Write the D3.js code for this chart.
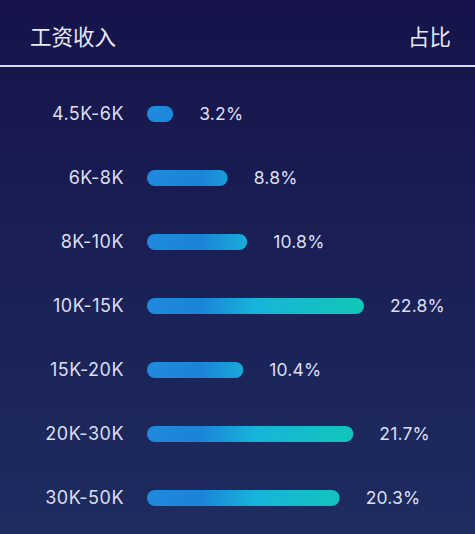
<!DOCTYPE html>
<html><head><meta charset="utf-8">
<script src="https://cdn.jsdelivr.net/npm/d3@7"></script>
<style>
html,body{margin:0;padding:0;background:#171649;}
svg{display:block;}
</style></head>
<body>
<script>
const categories = ["4.5K-6K","6K-8K","8K-10K","10K-15K","15K-20K","20K-30K","30K-50K"];
const values = [3.2, 8.8, 10.8, 22.8, 10.4, 21.7, 20.3];
const valueLabels = ["3.2%","8.8%","10.8%","22.8%","10.4%","21.7%","20.3%"];
const headers = ["工资收入","占比"];

const W = 475, H = 534;
const svg = d3.select("body").append("svg").attr("width", W).attr("height", H);
const defs = svg.append("defs");

const bg = defs.append("linearGradient").attr("id","bg").attr("x1",0).attr("y1",0).attr("x2",0).attr("y2",1);
bg.append("stop").attr("offset","0%").attr("stop-color","#16144a");
bg.append("stop").attr("offset","100%").attr("stop-color","#1e2c60");
svg.append("rect").attr("width",W).attr("height",H).attr("fill","url(#bg)");

const cjk = "'Noto Sans CJK SC', sans-serif";
const latin = "Inter, 'Noto Sans', sans-serif";

svg.append("text").attr("x",30).attr("y",37).attr("dy","0.35em")
  .attr("fill","#e8e9f6").attr("font-family",cjk).attr("font-size",21.5).text(headers[0]);
svg.append("text").attr("x",451).attr("y",37).attr("dy","0.35em").attr("text-anchor","end")
  .attr("fill","#e8e9f6").attr("font-family",cjk).attr("font-size",21.5).text(headers[1]);
svg.append("line").attr("x1",0).attr("x2",W).attr("y1",66).attr("y2",66)
  .attr("stroke","#d9dbf2").attr("stroke-width",2);

const x = d3.scaleLinear().domain([0, 22.8]).range([142, 364]);
const y = d3.scalePoint().domain(categories).range([114, 498]);
const x0 = 147;

const bg2 = defs.append("linearGradient").attr("id","bar").attr("gradientUnits","userSpaceOnUse")
  .attr("x1", x0).attr("x2", x(22.8)).attr("y1",0).attr("y2",0);
bg2.append("stop").attr("offset","0%").attr("stop-color","#1f8ade");
bg2.append("stop").attr("offset","25%").attr("stop-color","#1b84d8");
bg2.append("stop").attr("offset","50%").attr("stop-color","#17b4da");
bg2.append("stop").attr("offset","100%").attr("stop-color","#10c7b5");

const barH = 16;
const rows = svg.append("g").selectAll("g").data(categories).join("g");

rows.append("text").attr("x",124).attr("y",d=>y(d)).attr("dy","0.36em").attr("text-anchor","end")
  .attr("fill","#dcdff2").attr("font-family",latin).attr("font-size",18).attr("letter-spacing",0.5).text(d=>d);

rows.append("rect")
  .attr("x", x0)
  .attr("y", d=>y(d)-barH/2)
  .attr("width", (d,i)=>x(values[i])-x0)
  .attr("height", barH)
  .attr("rx", barH/2)
  .attr("fill","url(#bar)");

rows.append("text").attr("x",(d,i)=>x(values[i])+26).attr("y",d=>y(d)).attr("dy","0.36em")
  .attr("fill","#dcdff2").attr("font-family",latin).attr("font-size",17.5).attr("letter-spacing",0.2).text((d,i)=>valueLabels[i]);
</script>
</body></html>
